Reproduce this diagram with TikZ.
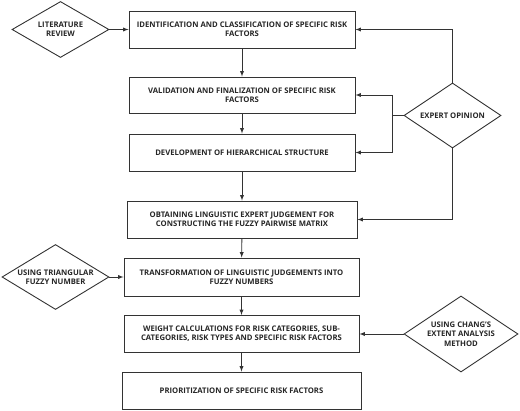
\documentclass[tikz,border=0pt]{standalone}
\usepackage{fontspec}
\setmainfont{Open Sans}
\usetikzlibrary{shapes.geometric}

\begin{document}
\begin{tikzpicture}[
	x=1pt, y=-1pt,
	txt/.style={
		align=center,
		font=\fontsize{7.7}{9.3}\selectfont\bfseries,
		text=black!85,
	},
	cell/.style={
		rectangle,
		draw=black!80,
		line width=0.9pt,
		txt,
		minimum height=37pt,
	},
	decision/.style={% Diamonds, text set as a centred label
		diamond,
		draw=black!80,
		line width=0.9pt,
		inner sep=0pt,
	},
	ArrowC1/.style={
		line width=0.9pt,
		draw=black!80,
	},
]
	\useasboundingbox (0,0) rectangle (520,411);

	\node [cell, minimum width=226pt] (id) at (242,29.5) {IDENTIFICATION AND CLASSIFICATION OF SPECIFIC RISK\\FACTORS};
	\node [cell, minimum width=226pt, minimum height=36pt] (val) at (242,95) {VALIDATION AND FINALIZATION OF SPECIFIC RISK\\FACTORS};
	\node [cell, minimum width=226pt] (dev) at (242,152.5) {DEVELOPMENT OF HIERARCHICAL STRUCTURE};
	\node [cell, minimum width=230pt] (obt) at (242,219.5) {OBTAINING LINGUISTIC EXPERT JUDGEMENT FOR\\CONSTRUCTING THE FUZZY PAIRWISE MATRIX};
	\node [cell, minimum width=235pt, minimum height=38pt] (tr) at (241.5,277) {TRANSFORMATION OF LINGUISTIC JUDGEMENTS INTO\\FUZZY NUMBERS};
	\node [cell, minimum width=235pt] (wc) at (241.5,334) {WEIGHT CALCULATIONS FOR RISK CATEGORIES, SUB-\\CATEGORIES, RISK TYPES AND SPECIFIC RISK FACTORS};
	\node [cell, minimum width=239pt] (pr) at (241.5,390.5) {PRIORITIZATION OF SPECIFIC RISK FACTORS};

	\node [decision, minimum width=97pt, minimum height=56pt,
		label={[txt]center:{LITERATURE\\REVIEW}}] (lit) at (60.5,29.5) {};
	\node [decision, minimum width=97pt, minimum height=65pt,
		label={[txt]center:{EXPERT OPINION}}] (exp) at (452.5,115.5) {};
	\node [decision, minimum width=107pt, minimum height=65pt,
		label={[txt]center:{USING TRIANGULAR\\FUZZY NUMBER}}] (tri) at (55.5,277) {};
	\node [decision, minimum width=114pt, minimum height=76pt,
		label={[txt]center:{USING CHANG'S\\EXTENT ANALYSIS\\METHOD}}] (chg) at (461,334) {};
	\coordinate (split) at (392,115.5);

	\draw [-latex,ArrowC1] (id) -- (val);
	\draw [-latex,ArrowC1] (val) -- (dev);
	\draw [-latex,ArrowC1] (dev) -- (obt);
	\draw [-latex,ArrowC1] (obt) -- (tr);
	\draw [-latex,ArrowC1] (tr) -- (wc);
	\draw [-latex,ArrowC1] (wc) -- (pr);

	\draw [-latex,ArrowC1] (lit.east) -- (id.west);
	\draw [-latex,ArrowC1] (tri.east) -- (tr.west);
	\draw [-latex,ArrowC1] (chg.west) -- (wc.east);
	\draw [-latex,ArrowC1] (exp.north) |- (id.east);
	\draw [ArrowC1] (exp.west) -- (split);
	\draw [-latex,ArrowC1] (split) |- (val.east);
	\draw [-latex,ArrowC1] (split) |- (dev.east);
	\draw [-latex,ArrowC1] (exp.south) |- (obt.east);
\end{tikzpicture}
\end{document}
